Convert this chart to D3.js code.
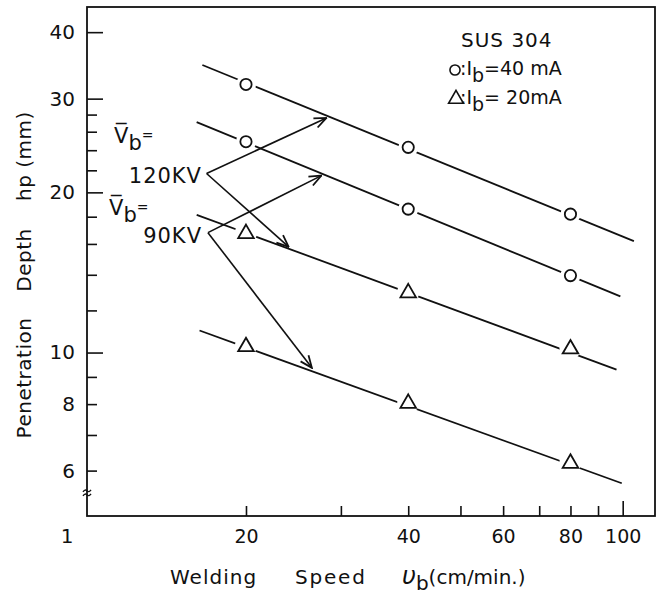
<!DOCTYPE html>
<html>
<head>
<meta charset="utf-8">
<script src="https://cdn.jsdelivr.net/npm/d3@7"></script>
<style>
  body { margin: 0; background: #fff; }
  text { font-family: "DejaVu Sans", sans-serif; fill: #111; }
</style>
</head>
<body>
<div id="chart"></div>
<script>
// values: welding speed (cm/min) vs penetration depth (mm)
const speeds = [20, 40, 80]
const depth40mA_120kV = [31.9, 24.3, 18.2]
const depth40mA_90kV  = [24.9, 18.6, 13.95]
const depth20mA_120kV = [16.8, 13.0, 10.2]
const depth20mA_90kV  = [10.3, 8.06, 6.22]

// fitted straight lines, end points as [speed, depth]
const fit40mA_120kV = [[16.6, 34.7], [104.9, 16.2]]
const fit40mA_90kV  = [[16.2, 27.1], [99.0, 12.75]]
const fit20mA_120kV = [[16.2, 18.15], [97.4, 9.29]]
const fit20mA_90kV  = [[16.4, 11.0], [99.6, 5.68]]

// voltage call-outs: corner point and the two arrow tips, as [speed, depth]
const arrows120kV = [[16.9, 21.7], [28.2, 27.6], [24.0, 15.8]]
const arrows90kV  = [[17.0, 16.8], [27.6, 21.5], [26.5, 9.36]]

const xLabelTicks = [20, 40, 60, 80, 100]
const xMinorTicks = [30, 50, 70, 90]
const yMajorTicks = [10, 20, 30, 40]
const ySmallLabelTicks = [6, 8]
const yMinorTicks = [7, 9, 12, 14, 16, 18, 22, 24, 26, 28]

function draw(){
    const width = 664, height = 597
    const margin = {top: 7, right: 9, bottom: 81, left: 87}

    const x = d3.scaleLog()
        .domain([10.14, 114.8])
        .range([margin.left, width - margin.right])
    const y = d3.scaleLog()
        .domain([4.93, 44.6])
        .range([height - margin.bottom, margin.top])

    const svg = d3.select('#chart')
        .append('svg')
        .attr('width', width)
        .attr('height', height)

    const y0 = height - margin.bottom

    // Frame
    svg.append('rect')
        .attr('x', margin.left).attr('y', margin.top)
        .attr('width', width - margin.left - margin.right)
        .attr('height', y0 - margin.top)
        .attr('fill', 'none').attr('stroke', '#111').attr('stroke-width', 1.8)

    // X axis
    const xg = svg.append('g').attr('transform', `translate(0,${y0})`)
        .call(d3.axisBottom(x).tickValues(xLabelTicks).tickSize(-10).tickPadding(14)
            .tickFormat(d3.format('d')))
    svg.append('g').attr('transform', `translate(0,${y0})`)
        .call(d3.axisBottom(x).tickValues(xMinorTicks).tickSize(-10).tickFormat(''))
    xg.selectAll('.tick').filter(d => d === 100).select('line').attr('y2', -15)

    // Y axis
    const yg = svg.append('g').attr('transform', `translate(${margin.left},0)`)
        .call(d3.axisLeft(y).tickValues(yMajorTicks).tickSize(-16).tickPadding(12)
            .tickFormat(d3.format('d')))
    svg.append('g').attr('transform', `translate(${margin.left},0)`)
        .call(d3.axisLeft(y).tickValues(ySmallLabelTicks).tickSize(-10).tickPadding(12)
            .tickFormat(d3.format('d')))
    svg.append('g').attr('transform', `translate(${margin.left},0)`)
        .call(d3.axisLeft(y).tickValues(yMinorTicks).tickSize(-10).tickFormat(''))

    svg.selectAll('.domain').remove()
    svg.selectAll('.tick line').attr('stroke', '#111').attr('stroke-width', 1.6)
    svg.selectAll('.tick text').style('font-size', '20px').attr('fill', '#111')
    xg.selectAll('.tick text').style('font-size', '19px')

    // the stray "1" under the axis corner
    svg.append('text').attr('x', 67).attr('y', 543)
        .attr('text-anchor', 'middle').style('font-size', '20px').text('1')

    // axis break mark
    const bk = y(5.45)
    svg.append('path')
        .attr('d', `M${margin.left-4},${bk-1} q2,-3 4,-1 t4,-1 M${margin.left-4},${bk+3} q2,-3 4,-1 t4,-1`)
        .attr('fill', 'none').attr('stroke', '#111').attr('stroke-width', 1.4)

    // Axis titles
    const ytitle = [['Penetration', 378], ['Depth', 260], ['hp (mm)', 156]]
    svg.selectAll('.ytitle').data(ytitle).join('text')
        .attr('transform', d => `translate(31,${d[1]}) rotate(-90)`)
        .attr('text-anchor', 'middle')
        .style('font-size', '20px').style('letter-spacing', '0.5px')
        .text(d => d[0])

    svg.append('text').attr('x', 170).attr('y', 584)
        .style('font-size', '20px').style('letter-spacing', '1px').text('Welding')
    svg.append('text').attr('x', 295).attr('y', 584)
        .style('font-size', '20px').style('letter-spacing', '1.8px').text('Speed')
    const vt = svg.append('text').attr('x', 402).attr('y', 584).style('font-size', '20px')
    vt.append('tspan').style('font-style', 'italic').style('font-size', '24px').text('υ')
    vt.append('tspan').attr('dy', 6).text('b')
    vt.append('tspan').attr('dy', -6).text('(cm/min.)')

    // Fitted lines
    const line = d3.line().x(d => x(d[0])).y(d => y(d[1]))
    const fits = [fit40mA_120kV, fit40mA_90kV, fit20mA_120kV, fit20mA_90kV]
    svg.selectAll('.fit').data(fits).join('path')
        .attr('d', line)
        .attr('fill', 'none').attr('stroke', '#111').attr('stroke-width', 1.8)

    // Points
    const series = [
        {values: depth40mA_120kV, shape: 'circle'},
        {values: depth40mA_90kV, shape: 'circle'},
        {values: depth20mA_120kV, shape: 'triangle'},
        {values: depth20mA_90kV, shape: 'triangle'}
    ]
    const points = series.flatMap(s => s.values.map((v, i) => ({sx: speeds[i], v, shape: s.shape})))

    svg.selectAll('.halo').data(points).join('circle')
        .attr('cx', d => x(d.sx)).attr('cy', d => y(d.v))
        .attr('r', d => d.shape === 'circle' ? 10 : 11)
        .attr('fill', '#fff')

    const circleSym = d3.symbol().type(d3.symbolCircle).size(100)
    const triSym = d3.symbol().type(d3.symbolTriangle).size(105)
    svg.selectAll('.pt').data(points).join('path')
        .attr('transform', d => `translate(${x(d.sx)},${y(d.v) + (d.shape === 'triangle' ? 1 : 0)})`)
        .attr('d', d => d.shape === 'circle' ? circleSym() : triSym())
        .attr('fill', '#fff').attr('stroke', '#111').attr('stroke-width', 1.8)

    // Arrows
    svg.append('defs').append('marker')
        .attr('id', 'head').attr('viewBox', '0 0 14 12')
        .attr('refX', 13).attr('refY', 6)
        .attr('markerWidth', 14).attr('markerHeight', 12)
        .attr('markerUnits', 'userSpaceOnUse')
        .attr('orient', 'auto')
        .append('path').attr('d', 'M1,1 L13,6 L1,11')
        .attr('fill', 'none').attr('stroke', '#111').attr('stroke-width', 1.8)

    const arrowSegs = [arrows120kV, arrows90kV].flatMap(a => [[a[0], a[1]], [a[0], a[2]]])
    svg.selectAll('.arrow').data(arrowSegs).join('path')
        .attr('d', line)
        .attr('fill', 'none').attr('stroke', '#111').attr('stroke-width', 1.6)
        .attr('marker-end', 'url(#head)')

    // Voltage labels
    function vLabel(xp, yp){
        const t = svg.append('text').attr('x', xp).attr('y', yp).style('font-size', '21px')
        t.append('tspan').text('V\u0305')
        t.append('tspan').attr('dy', 7).text('b')
        t.append('tspan').attr('dy', -10).style('font-size', '14px').text('=')
    }
    vLabel(114, 143)
    vLabel(109, 215)
    svg.append('text').attr('x', 202).attr('y', 183).attr('text-anchor', 'end')
        .style('font-size', '21px').style('letter-spacing', '1px').text('120KV')
    svg.append('text').attr('x', 202).attr('y', 243).attr('text-anchor', 'end')
        .style('font-size', '21px').style('letter-spacing', '1px').text('90KV')

    // Legend
    svg.append('text').attr('x', 461).attr('y', 47)
        .style('font-size', '20px').style('letter-spacing', '1px').text('SUS 304')
    svg.append('path').attr('transform', 'translate(455,70)').attr('d', d3.symbol().type(d3.symbolCircle).size(80)())
        .attr('fill', 'none').attr('stroke', '#111').attr('stroke-width', 1.6)
    svg.append('path').attr('transform', 'translate(456,99)').attr('d', d3.symbol().type(d3.symbolTriangle).size(95)())
        .attr('fill', 'none').attr('stroke', '#111').attr('stroke-width', 1.6)
    const legendRows = [[75, '=40 mA'], [104, '= 20mA']]
    legendRows.forEach(r => {
        const t = svg.append('text').attr('x', 460).attr('y', r[0]).style('font-size', '19px')
        t.append('tspan').text(':I')
        t.append('tspan').attr('dy', 7).text('b')
        t.append('tspan').attr('dy', -7).text(r[1])
    })
}
draw()
</script>
</body>
</html>
